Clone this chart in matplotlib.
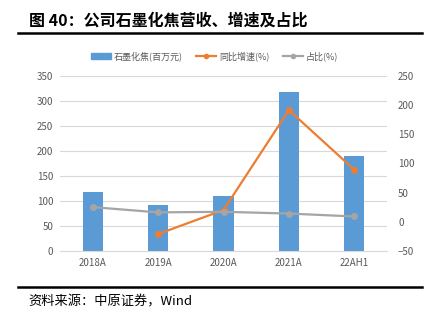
import matplotlib
matplotlib.use("Agg")
import matplotlib.pyplot as plt
import numpy as np
from matplotlib.lines import Line2D
from matplotlib.patches import Patch

plt.rcParams['font.family'] = ['Noto Sans CJK SC', 'DejaVu Sans']

categories = ["2018A", "2019A", "2020A", "2021A", "22AH1"]
revenue = [117, 91, 110, 317, 189]
growth = [np.nan, -21, 20, 191, 89]
share = [25, 16, 17, 14, 9]
left_ticks = [0, 50, 100, 150, 200, 250, 300, 350]
right_ticks = [-50, 0, 50, 100, 150, 200, 250]

blue = "#5B9BD5"
orange = "#ED7D31"
gray = "#A5A5A5"
tick_col = "#595959"

fig = plt.figure(figsize=(4.29, 3.23), dpi=100)
ax = fig.add_axes([0.140, 0.223, 0.762, 0.543])
x = np.arange(len(categories))
ax.bar(x, revenue, width=0.31, color=blue, zorder=2)
ax.set_ylim(0, 350)
ax.set_yticks(left_ticks)
ax.set_xlim(-0.5, len(categories) - 0.5)
ax.set_xticks(x)
ax.set_xticklabels(categories)
ax.grid(axis='y', color='#D9D9D9', linewidth=0.8, zorder=0)
ax.set_axisbelow(True)
for s in ['top', 'left', 'right']:
    ax.spines[s].set_visible(False)
ax.spines['bottom'].set_color('#D9D9D9')
ax.tick_params(axis='both', length=0, labelsize=7, colors=tick_col, pad=5)

ax2 = ax.twinx()
ax2.plot(x, growth, color=orange, linewidth=1.6, marker='o', markersize=4, zorder=3)
ax2.plot(x, share, color=gray, linewidth=1.6, marker='o', markersize=4, zorder=3)
ax2.set_ylim(-50, 250)
ax2.set_yticks(right_ticks)
for s in ['top', 'left', 'right', 'bottom']:
    ax2.spines[s].set_visible(False)
ax2.tick_params(axis='y', length=0, labelsize=7, colors=tick_col, pad=8)

handles = [Patch(color=blue),
           Line2D([], [], color=orange, marker='o', markersize=3, linewidth=1.6),
           Line2D([], [], color=gray, marker='o', markersize=3, linewidth=1.6)]
labels = ["石墨化焦(百万元)", "同比增速(%)", "占比(%)"]
fig.legend(handles, labels, loc='center', bbox_to_anchor=(0.5, 0.827), ncol=3,
           frameon=False, fontsize=6.5, labelcolor=tick_col, handlelength=2.2,
           columnspacing=1.5, handletextpad=0.3)

fig.text(0.068, 0.936, "图 40：公司石墨化焦营收、增速及占比", fontsize=11.5,
         fontweight='bold', va='center', ha='left', color='black')
fig.add_artist(Line2D([0.042, 0.984], [0.899, 0.899], color='black', linewidth=1.8,
                      transform=fig.transFigure))
fig.add_artist(Line2D([0.042, 0.984], [0.113, 0.113], color='black', linewidth=1.8,
                      transform=fig.transFigure))
fig.text(0.066, 0.066, "资料来源：中原证券，Wind", fontsize=9.5, va='center',
         ha='left', color='black')

fig.savefig("out.png", dpi=100)
